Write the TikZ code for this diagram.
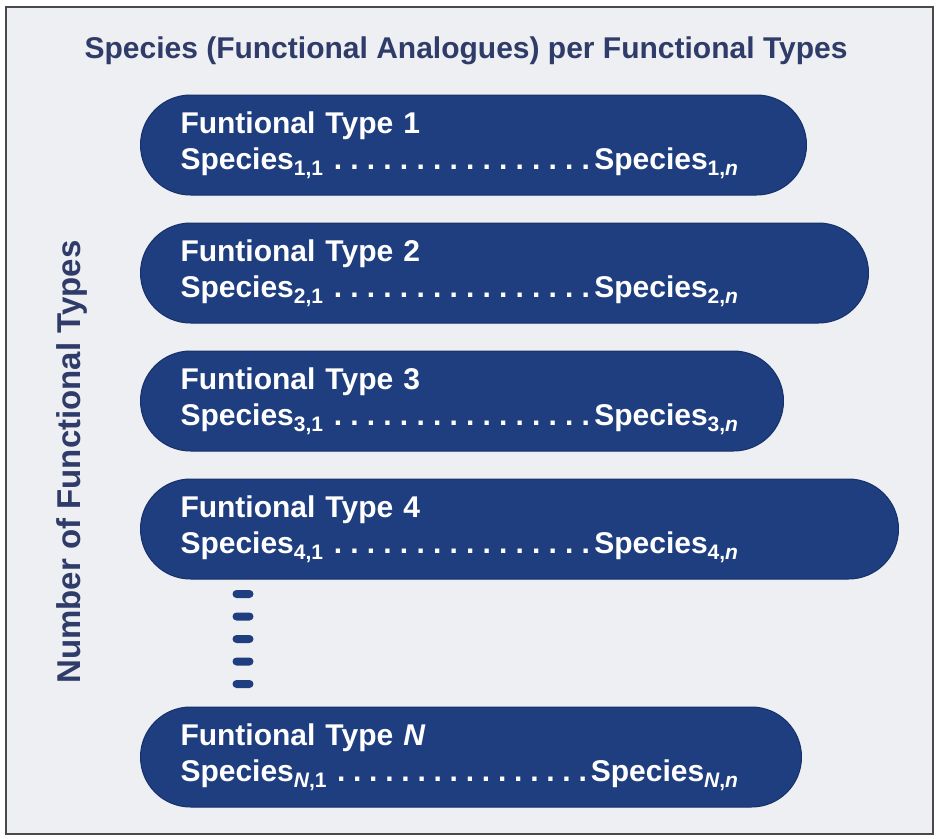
\documentclass[tikz,border=0pt]{standalone}
\usepackage{fontspec}
\setmainfont{Liberation Sans}
\usepackage{xcolor}
\usetikzlibrary{positioning}

\definecolor{ftblue}{HTML}{1F3E80}
\definecolor{ftedge}{HTML}{15306A}
\definecolor{headink}{HTML}{2F3B68}
\definecolor{paper}{HTML}{EDEFF2}
\definecolor{frameink}{HTML}{4A4A4A}

% one row of species, dotted leaders between first and last
\newcommand{\spline}[1]{\hbox to 558pt{Species\textsubscript{#1,1}\kern6pt%
  \xleaders\hbox to 16pt{\hss.\hss}\hfill
  Species\textsubscript{#1,\textit{n}}}}

\begin{document}
\begin{tikzpicture}[x=1pt, y=-1pt,
  every node/.style={font=\fontsize{30}{36}\selectfont\bfseries},
  ftype/.style={draw=ftedge, line width=1pt, fill=ftblue, rounded corners=50pt,
    minimum height=100pt, inner xsep=40pt, text width=#1, align=left,
    text=white},
  tick/.style={fill=ftblue, rounded corners=4pt, minimum width=21pt,
    minimum height=8pt, inner sep=0pt}]
  \useasboundingbox[fill=white] (0,0) rectangle (937,838);
  \draw[frameink, line width=1.5pt, fill=paper] (6,7) rectangle (933,834);

  \node[text=headink, anchor=base] (title) at (466,58)
      {Species (Functional Analogues) per Functional Types};
  \node[text=headink, rotate=90, anchor=base,
        font=\fontsize{33}{40}\selectfont\bfseries] (axis) at (80,462)
      {Number of Functional Types};

  \node[ftype=586pt, anchor=west] (ft1) at (140,145)
      {Funtional Type 1\\\spline{1}};
  \node[ftype=648pt, below=27pt of ft1.south west, anchor=north west] (ft2)
      {Funtional Type 2\\\spline{2}};
  \node[ftype=563pt, below=27pt of ft2.south west, anchor=north west] (ft3)
      {Funtional Type 3\\\spline{3}};
  \node[ftype=678pt, below=27pt of ft3.south west, anchor=north west] (ft4)
      {Funtional Type 4\\\spline{4}};

  \foreach \i in {1,...,5}
    \node[tick] (gap\i) at (243,{594+22.5*(\i-1)}) {};

  \node[ftype=581pt, below=127pt of ft4.south west, anchor=north west] (ftN)
      {Funtional Type \textit{N}\\\spline{\textit{N}}};
\end{tikzpicture}
\end{document}
